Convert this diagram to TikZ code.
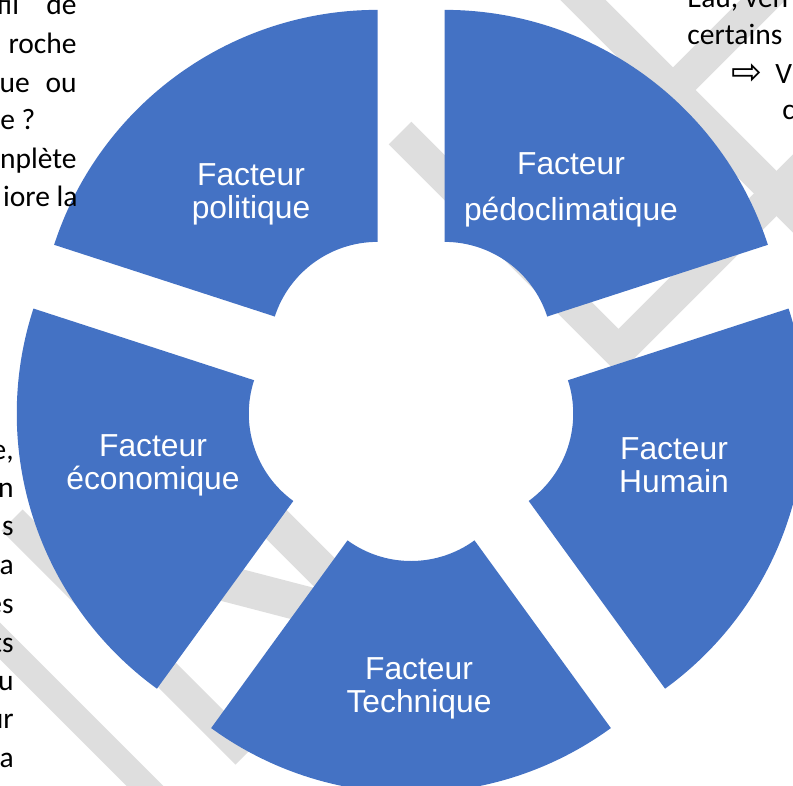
\documentclass[tikz,border=0pt]{standalone}
\usepackage{fontspec}
\setmainfont{Carlito}
\newfontfamily\labelfont{Liberation Sans}
\newfontfamily\symbolfont{DejaVu Sans}
\usetikzlibrary{calc}
\definecolor{segblue}{HTML}{4472C4}
\definecolor{wmgray}{HTML}{DEDEDE}
\tikzset{
  segment/.style={fill=segblue, draw=none},
  seglabel/.style={text=white, align=center, inner sep=0pt,
    font=\labelfont\fontsize{18.1}{18.7}\selectfont},
  pagetext/.style={inner sep=0pt, font=\fontsize{16.8}{21.8}\selectfont},
  wmband/.style={draw=wmgray, line width=0.64cm, line join=miter}
}

\begin{document}
\begin{tikzpicture}[x=0.02cm, y=0.02cm]
  \useasboundingbox (0,0) rectangle (793,785);
  \clip (0,0) rectangle (793,785);

  % watermark bands behind the ring
  \draw[wmband] (400,652) -- (618.5,433.5) -- (830,645);
  \draw[wmband] (560,808) -- (830,538);
  \draw[wmband] (673,695) -- (800,822);
  \draw[wmband, line width=0.6cm] (12,265) -- (246,31);
  \draw[wmband, line width=0.52cm] (-20,164) -- (160,-16);
  \draw[wmband, line width=0.7cm] (150,387) -- (420,117);
  \draw[wmband, line width=0.72cm] (150,221.2) -- (400,156.2);

  % ring segments, each pushed out from the centre
  \begin{scope}[shift={(411,389)}]
    \foreach \a in {126,54,-18,-90,198}
      \fill[segment, shift={(\a:57)}] (\a-36:108)
        arc[start angle=\a-36, end angle=\a+36, radius=108]
        -- (\a+36:340)
        arc[start angle=\a+36, end angle=\a-36, radius=340] -- cycle;
  \end{scope}

  \node[seglabel] (pol) at (251,591) {Facteur\\politique};
  \node[seglabel] (pedo) at (571,595) {Facteur\\[7.4pt]pédoclimatique};
  \node[seglabel] (hum) at (674,320) {Facteur\\Humain};
  \node[seglabel] (tech) at (419,97) {Facteur\\Technique};
  \node[seglabel] (eco) at (153,320) {Facteur\\économique};

  % page text around the figure
  \node[pagetext, anchor=base east] (l1) at (77,770) {\hbox to 1.6cm{fil\hfill de}};
  \node[pagetext, anchor=base east] (l2) at (77,731) {roche};
  \node[pagetext, anchor=base east] (l3) at (77,692) {\hbox to 1.54cm{ue\hfill ou}};
  \node[pagetext, anchor=base west] (l4) at (0,655) {e ?};
  \node[pagetext, anchor=base east] (l5) at (77,616) {nplète};
  \node[pagetext, anchor=base east] (l6) at (78,578) {iore la};

  \node[pagetext, anchor=base east] (m1) at (14,326) {e,};
  \node[pagetext, anchor=base east] (m2) at (14,288) {n};
  \node[pagetext, anchor=base east] (m3) at (14,250) {us};
  \node[pagetext, anchor=base east] (m4) at (14,211) {a};
  \node[pagetext, anchor=base east] (m5) at (14,172) {es};
  \node[pagetext, anchor=base east] (m6) at (14,133) {ts};
  \node[pagetext, anchor=base east] (m7) at (14,95) {u};
  \node[pagetext, anchor=base east] (m8) at (14,57) {ur};
  \node[pagetext, anchor=base east] (m9) at (14,18) {a};

  \node[pagetext, anchor=base west] (r1) at (687,777) {Eau, ven};
  \node[pagetext, anchor=base west] (r2) at (687,740) {certains};
  \node[pagetext, font=\symbolfont\fontsize{21}{24}\selectfont] (r3) at (747,711) {⇨};
  \node[pagetext, anchor=base west] (r4) at (775,701) {V};
  \node[pagetext, anchor=base west] (r5) at (782,665) {c};
\end{tikzpicture}
\end{document}
